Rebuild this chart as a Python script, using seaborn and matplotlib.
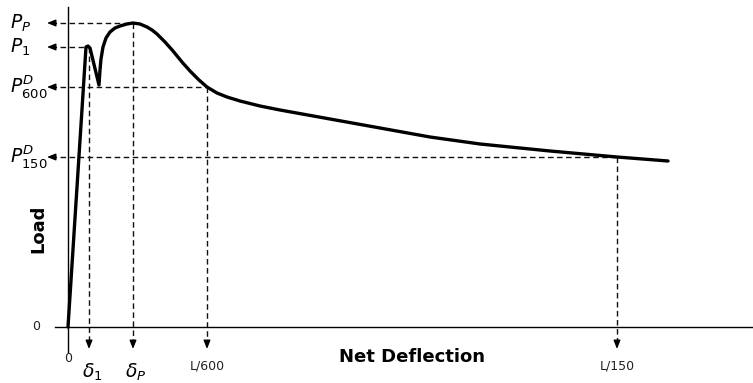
import matplotlib
matplotlib.use("Agg")
import matplotlib.pyplot as plt
import seaborn as sns

# load vs net deflection curve (arbitrary units)
deflection = [0, 18, 20, 22, 31, 32, 33, 35, 38, 42, 47, 52, 59, 65, 72, 79, 84, 89,
              97, 105, 114, 122, 131, 139, 149, 159, 172, 192, 212, 262, 312, 362,
              412, 432, 482, 549, 600]
load = [0, 280, 281, 279, 242, 257, 268, 280, 289, 295, 299, 301, 303, 304, 303, 300,
        297, 293, 285, 276, 265, 256, 247, 240, 234, 230, 226, 221, 217, 208, 199, 190,
        183, 181, 176, 170, 166]

# characteristic points
level_names = [r"$P_P$", r"$P_1$", r"$P^D_{600}$", r"$P^D_{150}$"]
level_values = [304, 280, 240, 170]
mark_names = [r"$\delta_P$", r"$\delta_1$", "L/600", "L/150"]
mark_values = [65, 21, 139, 549]

sns.set_style("white")
plt.rcParams["mathtext.fontset"] = "dejavusans"
plt.rcParams["font.family"] = ["DejaVu Sans"]
plt.rcParams["text.color"] = "black"

fig = plt.figure(figsize=(7.53, 3.83), dpi=100)
ax = fig.add_axes([0, 0, 1, 1])
ax.set_xlim(-68, 685)
ax.set_ylim(-56, 327)

# guide lines with arrows to the axes
arrow_x = -21
arrow_y = -22
dash = dict(color="#111111", lw=1.0, dashes=(4, 2.5))
head = dict(arrowstyle="-|>,head_length=0.5,head_width=0.2", color="black",
            lw=1.0, shrinkA=0, shrinkB=0)
for lv, mv in zip(level_values, mark_values):
    ax.plot([arrow_x + 4, mv], [lv, lv], **dash)
    ax.annotate("", xy=(arrow_x, lv), xytext=(arrow_x + 6, lv), arrowprops=head)
    ax.plot([mv, mv], [lv, arrow_y + 4], **dash)
    ax.annotate("", xy=(mv, arrow_y), xytext=(mv, arrow_y + 6), arrowprops=head)

sns.lineplot(x=deflection, y=load, sort=False, estimator=None, color="black",
             lw=2.4, ax=ax)

# axes through the origin
for side in ["top", "right"]:
    ax.spines[side].set_visible(False)
ax.spines["left"].set_position(("data", 0))
ax.spines["bottom"].set_position(("data", 0))
ax.spines["left"].set_bounds(-25, 320)
ax.spines["bottom"].set_bounds(-13, 685)
for side in ["left", "bottom"]:
    ax.spines[side].set_color("black")
    ax.spines[side].set_linewidth(1.0)
ax.set_xticks([])
ax.set_yticks([])

# labels
for name, lv in zip(level_names, level_values):
    ax.text(-58, lv, name, fontsize=13.5, ha="left", va="center")
for name, mv in zip(mark_names, mark_values):
    if name.startswith("$"):
        ax.text(mv + 3, -45, name, fontsize=13.5, ha="center", va="center")
    else:
        ax.text(mv, -39, name, fontsize=9, ha="center", va="center", color="#222222")
ax.text(-32, 0, "0", fontsize=9, ha="center", va="center", color="#222222")
ax.text(0, -32, "0", fontsize=9, ha="center", va="center", color="#222222")
ax.text(344, -30, "Net Deflection", fontsize=13, fontweight="bold",
        ha="center", va="center")
ax.text(-30, 98, "Load", fontsize=13, fontweight="bold", rotation=90,
        ha="center", va="center")

fig.savefig("out.png", dpi=100)
